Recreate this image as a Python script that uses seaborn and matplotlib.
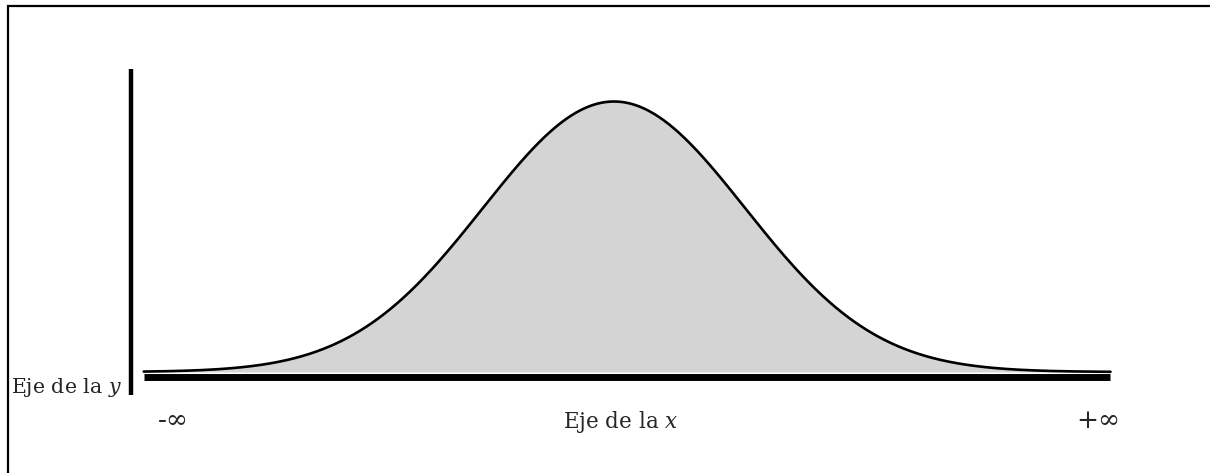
import numpy as np
import pandas as pd
import matplotlib
matplotlib.use("Agg")
import matplotlib.pyplot as plt
import seaborn as sns
from matplotlib.patches import Rectangle

# Normal curve (mean, standard deviation) drawn between the two ends of the x axis
mean = 0.0
sd = 1.0
x_start, x_end = -3.59, 3.79
n_points = 800

x_label = "Eje de la $x$"
y_label = "Eje de la $y$"
limit_labels = ["-∞", "+∞"]

x = np.linspace(x_start, x_end, n_points)
density = np.exp(-0.5 * ((x - mean) / sd) ** 2) / (sd * np.sqrt(2 * np.pi))
df = pd.DataFrame({"x": x, "densidad": density})

sns.set_theme(style="white")
plt.rcParams["font.family"] = ["DejaVu Serif"]
plt.rcParams["mathtext.fontset"] = "dejavuserif"

W, H = 1210, 473
fig = plt.figure(figsize=(W / 100, H / 100), dpi=100)
fig.patch.set_facecolor("white")
ax = fig.add_axes([0, 0, 1, 1])
ax.set_facecolor("white")

# pixel layout of the drawing
px_mean, px_sd = 614.0, 131.0
px_base, px_peak = 372.0, 101.5
peak_density = 1 / (sd * np.sqrt(2 * np.pi))
scale = (px_base - px_peak) / peak_density  # pixels per density unit

ax.set_xlim((0 - px_mean) / px_sd, (W - px_mean) / px_sd)
ax.set_ylim(-(H - px_base) / scale, px_base / scale)

ax.fill_between(df["x"], 0, df["densidad"], color="#d4d4d4", linewidth=0)
sns.lineplot(data=df, x="x", y="densidad", ax=ax, color="black", linewidth=1.9)

# axis lines
for side in ["top", "right"]:
    ax.spines[side].set_visible(False)
ax.spines["left"].set_position(("data", (131 - px_mean) / px_sd))
ax.spines["left"].set_bounds(-(395 - px_base) / scale, (px_base - 69) / scale)
ax.spines["left"].set_linewidth(3.2)
ax.spines["left"].set_color("black")
ax.spines["left"].set_capstyle("butt")
ax.spines["bottom"].set_position(("data", -(376.5 - px_base) / scale))
ax.spines["bottom"].set_bounds(x_start, x_end)
ax.spines["bottom"].set_linewidth(5.0)
ax.spines["bottom"].set_color("black")
ax.spines["bottom"].set_capstyle("butt")
ax.set_xticks([])
ax.set_yticks([])
ax.set_xlabel("")
ax.set_ylabel("")

# labels
fs = 15.5
fs_y = 14.8
fs_limits = 19
fig.text(173 / W, 1 - 428 / H, limit_labels[0], ha="center", va="baseline", fontsize=fs_limits)
fig.text(1098 / W, 1 - 428 / H, limit_labels[1], ha="center", va="baseline", fontsize=fs_limits)
fig.text(621 / W, 1 - 428 / H, x_label, ha="center", va="baseline", fontsize=fs)
fig.text(122 / W, 1 - 393 / H, y_label, ha="right", va="baseline", fontsize=fs_y)

# outer frame (top and left edges)
frame = Rectangle((7.7 / W, -0.5), 2.0, (1 - 6.5 / H) + 0.5,
                  transform=fig.transFigure, fill=False,
                  edgecolor="black", linewidth=1.6, clip_on=False)
fig.add_artist(frame)

fig.savefig("out.png", dpi=100, facecolor="white")
